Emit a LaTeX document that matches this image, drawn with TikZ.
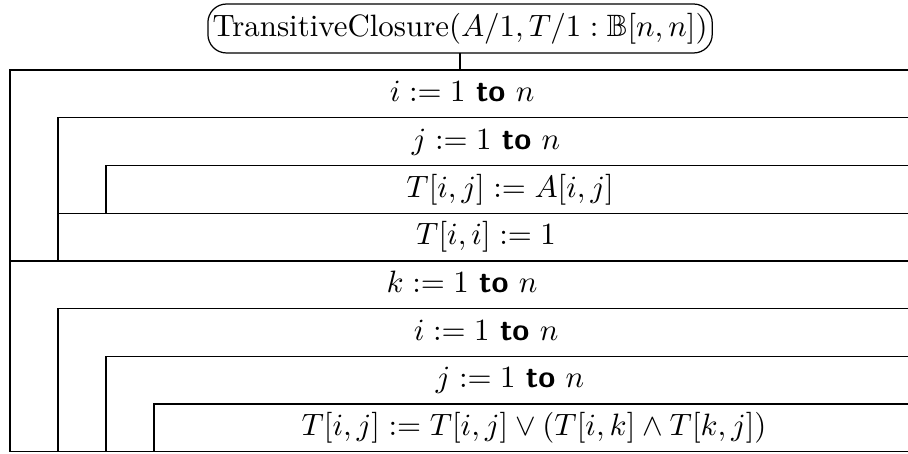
\documentclass[tikz,border=0pt]{standalone}
\usepackage{amsmath, amssymb}
\usepackage{tikz}
\usetikzlibrary{positioning}

\newcommand{\kw}[1]{\textsf{\bfseries #1}}

\begin{document}
\begin{tikzpicture}[
  node distance=0pt and 0.546cm,
  row/.style={minimum height=0.543cm, inner sep=0pt, outer sep=0pt, anchor=north west,
              text height=0.75em, text depth=0.25em},
  stmt/.style={row, draw},
  proc/.style={draw, rounded corners=6pt, minimum height=0.557cm, inner xsep=1.5pt,
               inner ysep=0pt, outer sep=0pt, text height=0.75em, text depth=0.25em}
]
  \useasboundingbox (0,0) rectangle (10.33,-5.155);

  \node[proc] (head) at (5.234,-0.324) {TransitiveClosure$(A/1, T/1 : \mathbb{B}[n,n])$};

  % first loop nest: copy A into T
  \node[row, minimum width=10.286cm] (ihead) at (0.114,-0.796) {$i := 1$ \kw{to} $n$};
  \node[row, minimum width=9.740cm, below right=of ihead.south west] (jhead) {$j := 1$ \kw{to} $n$};
  \node[stmt, minimum width=9.194cm, below right=of jhead.south west] (copy) {$T[i,j] := A[i,j]$};
  \node[stmt, minimum width=9.740cm] (diag) at (jhead.south west |- copy.south) {$T[i,i] := 1$};

  % second loop nest: closure
  \node[row, minimum width=10.286cm] (khead) at (ihead.south west |- diag.south) {$k := 1$ \kw{to} $n$};
  \node[row, minimum width=9.740cm, below right=of khead.south west] (ihead2) {$i := 1$ \kw{to} $n$};
  \node[row, minimum width=9.194cm, below right=of ihead2.south west] (jhead2) {$j := 1$ \kw{to} $n$};
  \node[stmt, minimum width=8.648cm, below right=of jhead2.south west] (update)
    {$T[i,j] := T[i,j] \lor (T[i,k] \land T[k,j])$};

  \draw (head.south) -- (head.south |- ihead.north);

  % loop frames
  \draw (ihead.north east) -- (ihead.north west) -- (ihead.west |- diag.south) -- (diag.south west);
  \draw (jhead.north east) -- (jhead.north west) -- (jhead.west |- copy.south) -- (copy.south west);
  \draw (khead.north east) -- (khead.north west) -- (khead.west |- update.south) -- (update.south west);
  \draw (ihead2.north east) -- (ihead2.north west) -- (ihead2.west |- update.south);
  \draw (jhead2.north east) -- (jhead2.north west) -- (jhead2.west |- update.south);
\end{tikzpicture}
\end{document}
